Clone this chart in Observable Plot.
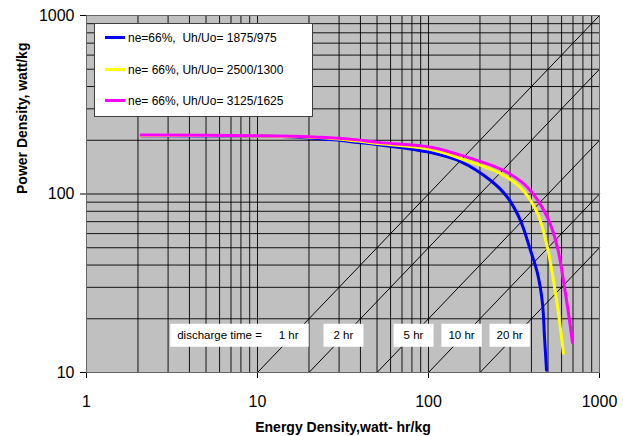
<!DOCTYPE html>
<html><head><meta charset="utf-8">
<script src="https://cdn.jsdelivr.net/npm/d3@7"></script>
<script src="https://cdn.jsdelivr.net/npm/@observablehq/plot@0.6"></script>
<style>
body{margin:0;background:#fff;font-family:Arial,"Liberation Sans",sans-serif;}
#wrap{position:relative;width:623px;height:436px;}
#legend{position:absolute;left:94px;top:23px;width:217px;height:92px;background:#fff;border:1px solid #404040;}
.item{position:absolute;left:0;height:16px;font-size:12px;line-height:16px;white-space:pre;color:#000;}
.swatch{position:absolute;left:10px;top:6px;width:20px;height:3px;}
.lab{position:absolute;left:33px;top:0;}
</style></head><body><div id="wrap"></div>
<script>
// Series
const seriesNames = ["ne=66%,  Uh/Uo= 1875/975", "ne= 66%, Uh/Uo= 2500/1300", "ne= 66%, Uh/Uo= 3125/1625"];
const seriesColors = ["#0000ff", "#ffff00", "#ff00ff"];

const blueE = [2.09, 10, 17.8, 28, 38.4, 52.4, 103, 154, 231, 290, 345, 395, 434, 464, 477, 490];
const blueP = [212, 211, 207.5, 201, 194.5, 188, 170.5, 152, 119, 95.6, 71, 48.2, 35.9, 24.4, 15.7, 10.3];

const yellowE = [2.09, 10, 17.8, 28, 38.4, 52.4, 103, 154, 264, 345, 434, 496, 538, 576, 615];
const yellowP = [213, 211.5, 209, 204, 198, 191, 178, 158, 130, 108.7, 77.8, 50.1, 32.8, 21.4, 12.8];

const magentaE = [2.09, 10, 17.8, 28, 38.4, 52.4, 103, 154, 275, 380, 496, 568, 615, 659, 695];
const magentaP = [214, 212, 210, 206, 201, 194, 183, 165, 135.4, 108.7, 73.9, 50.1, 32.8, 21.4, 14.7];

// Constant discharge-time lines (hours)
const dischargeHours = [1, 2, 5, 10, 20];

// Annotation labels
const labelTexts = ["discharge time =", "1 hr", "2 hr", "5 hr", "10 hr", "20 hr"];
const labelE = [6.0, 15.2, 31.8, 81.7, 156, 298];
const labelP = [16.1, 16.1, 16.1, 16.1, 16.1, 16.1];

// Axes
const xTicks = [1, 10, 100, 1000];
const yTicks = [10, 100, 1000];
const xTitle = "Energy Density,watt- hr/kg";
const yTitle = "Power Density, watt/kg";
const mantissas = [1, 2, 3, 4, 5, 6, 7, 8, 9];

// Build tables
const seriesE = [blueE, yellowE, magentaE];
const seriesP = [blueP, yellowP, magentaP];
const curves = seriesNames.flatMap((name, i) => seriesE[i].map((e, j) => ({series: name, E: e, P: seriesP[i][j]})));
const xGrid = [1, 10, 100].flatMap(d => mantissas.map(m => d * m)).concat([1000]);
const yGrid = [10, 100].flatMap(d => mantissas.map(m => d * m)).concat([1000]);
const xMin = 1, xMax = 1000, yMin = 10, yMax = 1000;
const diag = dischargeHours.flatMap(t => [{t, E: yMin * t, P: yMin}, {t, E: xMax, P: xMax / t}]);
const labels = labelTexts.map((s, i) => ({s, E: labelE[i], P: labelP[i]}));

const chart = Plot.plot({
  width: 623,
  height: 436,
  marginLeft: 86,
  marginRight: 24,
  marginTop: 15,
  marginBottom: 64,
  style: {fontFamily: "Arial, 'Liberation Sans', sans-serif", fontSize: "16px", background: "#fff", overflow: "visible"},
  x: {type: "log", domain: [xMin, xMax], ticks: xTicks, tickFormat: d => String(d), tickSize: 6, tickPadding: 17, label: null},
  y: {type: "log", domain: [yMin, yMax], ticks: yTicks, tickFormat: d => String(d), tickSize: 6, tickPadding: 6, label: null},
  color: {domain: seriesNames, range: seriesColors},
  marks: [
    Plot.frame({fill: "#c0c0c0"}),
    Plot.ruleX(xGrid, {stroke: "#000", strokeWidth: 1, strokeOpacity: 0.9}),
    Plot.ruleY(yGrid, {stroke: "#000", strokeWidth: 1, strokeOpacity: 0.9}),
    Plot.line(diag, {x: "E", y: "P", z: "t", stroke: "#000", strokeWidth: 1}),
    Plot.text(labels, {x: "E", y: "P", text: "s", fontSize: 11.5, fill: "#000", textAnchor: "middle"}),
    Plot.line(curves, {x: "E", y: "P", z: "series", stroke: "series", strokeWidth: 3, curve: "catmull-rom"}),
    Plot.frame({stroke: "#666", strokeWidth: 1}),
    Plot.text([xTitle], {frameAnchor: "bottom", dy: 55, lineAnchor: "middle", fontWeight: "bold", fontSize: 14, fill: "#000"}),
    Plot.text([yTitle], {frameAnchor: "left", dx: -64, rotate: -90, lineAnchor: "middle", fontWeight: "bold", fontSize: 14, fill: "#000"})
  ]
});

const wrap = document.getElementById("wrap");
wrap.appendChild(chart);

// white boxes behind the discharge-time labels
const svgEl = chart.tagName.toLowerCase() === "svg" ? chart : chart.querySelector("svg");
svgEl.querySelectorAll("text").forEach(t => {
  if (!labelTexts.includes(t.textContent)) return;
  const b = t.getBBox();
  const w = Math.max(b.width + 14, 40), h = 23;
  const r = document.createElementNS("http://www.w3.org/2000/svg", "rect");
  r.setAttribute("x", b.x + b.width / 2 - w / 2);
  r.setAttribute("y", b.y + b.height / 2 - h / 2);
  r.setAttribute("width", w);
  r.setAttribute("height", h);
  r.setAttribute("fill", "#fff");
  r.setAttribute("stroke", "none");
  const tr = t.getAttribute("transform");
  if (tr) r.setAttribute("transform", tr);
  t.parentNode.insertBefore(r, t);
});

// legend
const legend = document.createElement("div");
legend.id = "legend";
const rowTops = [6, 38, 69];
seriesNames.forEach((name, i) => {
  const item = document.createElement("div");
  item.className = "item";
  item.style.top = rowTops[i] + "px";
  const sw = document.createElement("div");
  sw.className = "swatch";
  sw.style.background = seriesColors[i];
  const lab = document.createElement("div");
  lab.className = "lab";
  lab.textContent = name;
  item.appendChild(sw);
  item.appendChild(lab);
  legend.appendChild(item);
});
wrap.appendChild(legend);
</script>
</body></html>
